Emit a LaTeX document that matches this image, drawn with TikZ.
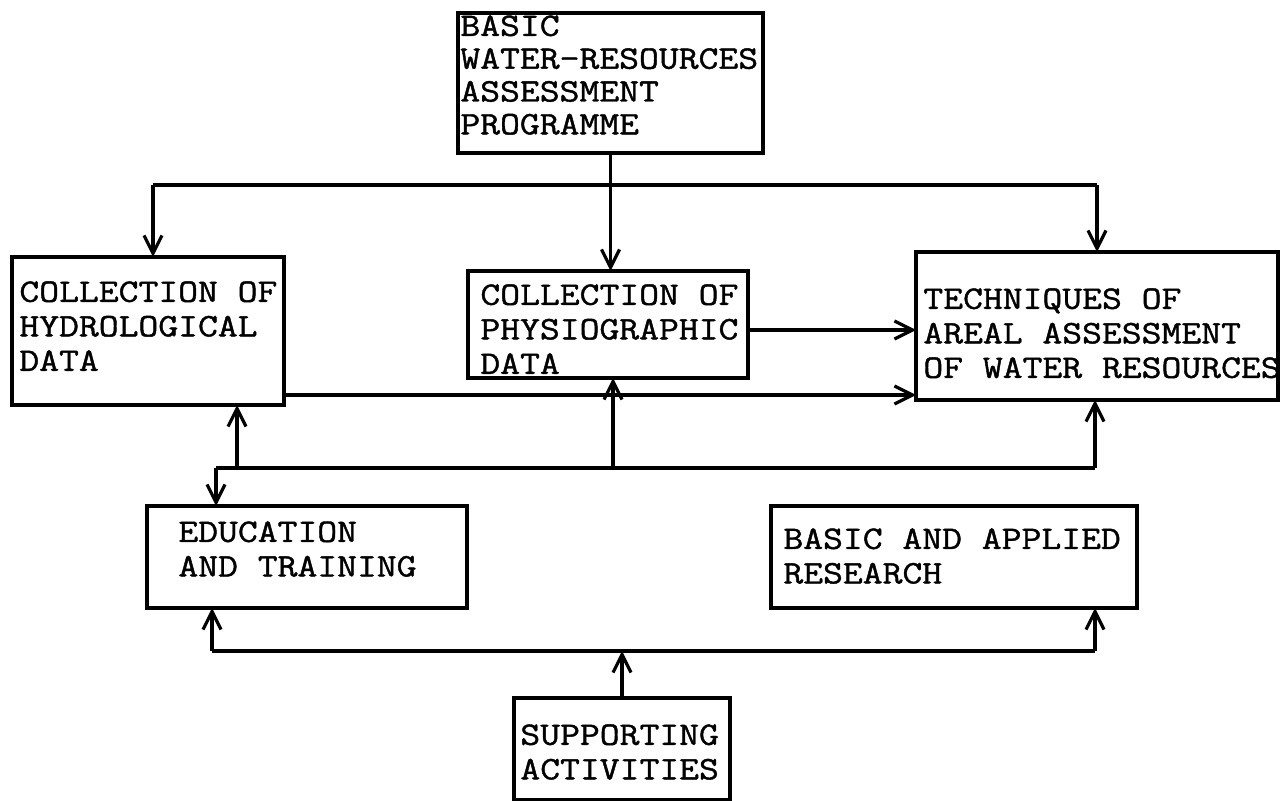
\documentclass[tikz,border=0pt]{standalone}
\usepackage{fontspec}
\newfontfamily\typew[FakeStretch=1.175,FakeBold=1.3]{Latin Modern Mono}
\usetikzlibrary{arrows.meta,calc}
\begin{document}
\begin{tikzpicture}[x=0.5pt,y=-0.5pt,
  box/.style={draw, line width=1.6pt, inner sep=0pt, outer sep=0pt},
  txt/.style={anchor=north west, inner sep=0pt, align=left, font=\typew\fontsize{16.4pt}{17.25pt}\selectfont},
  txttop/.style={txt, font=\typew\fontsize{16.4pt}{16.4pt}\selectfont},
  ln/.style={line width=1.6pt},
  arr/.style={ln, -{Straight Barb[length=9pt,width=9pt]}}]
\useasboundingbox (0,0) rectangle (1280,801);
\fill[white] (0,0) rectangle (1280,801);

% boxes
\node[box, minimum width=152.5pt, minimum height=70pt] (top) at (610.5,83) {};
\node[txttop] (toptxt) at (460,15) {BASIC\\WATER-RESOURCES\\ASSESSMENT\\PROGRAMME};

\node[box, minimum width=136pt, minimum height=74pt] (hyd) at (148,331) {};
\node[txt] (hydtxt) at (19,281) {COLLECTION OF\\HYDROLOGICAL\\DATA};

\node[box, minimum width=140pt, minimum height=53.5pt] (mid) at (608,324.5) {};
\node[txt] (midtxt) at (480,284) {COLLECTION OF\\PHYSIOGRAPHIC\\DATA};

\node[box, minimum width=181pt, minimum height=74pt] (tech) at (1097,326) {};
\node[txt] (techtxt) at (923,288) {TECHNIQUES OF\\AREAL ASSESSMENT\\OF WATER RESOURCES};

\node[box, minimum width=160pt, minimum height=51pt] (edu) at (307,557) {};
\node[txt] (edutxt) at (178,521) {EDUCATION\\AND TRAINING};

\node[box, minimum width=183pt, minimum height=51pt] (res) at (954,557) {};
\node[txt] (restxt) at (783,528) {BASIC AND APPLIED\\RESEARCH};

\node[box, minimum width=108pt, minimum height=51pt] (sup) at (622,749) {};
\node[txt] (suptxt) at (520,724) {SUPPORTING\\ACTIVITIES};

% upper distribution bus
\draw[arr] (top.south) -- (top.south |- mid.north);
\coordinate (bL) at (153,185);
\coordinate (bR) at (1097,185);
\draw[ln] (bL) -- (bR);
\draw[arr] (bL) -- (bL |- hyd.north);
\draw[arr] (bR) -- (bR |- tech.north);

% into techniques
\coordinate (m1) at ([yshift=-2.75pt]mid.east);
\draw[arr] (m1) -- (m1 -| tech.west);
\coordinate (h1) at ([yshift=5pt]hyd.south east);
\draw[arr] (h1) -- (h1 -| tech.west);

% lower bus
\coordinate (lL) at (216,468);
\coordinate (lR) at (1095,468);
\coordinate (l1) at (237,468);
\coordinate (l2) at (613,468);
\draw[ln] (lL) -- (lR);
\draw[arr] (lL) -- (lL |- edu.north);
\draw[arr] (l1) -- (l1 |- hyd.south);
\draw[arr] (l2) -- (l2 |- mid.south);
\draw[arr] (lR) -- (lR |- tech.south);

% bottom bus
\coordinate (dL) at (212,651);
\coordinate (dR) at (1095,651);
\draw[ln] (dL) -- (dR);
\draw[arr] (dL) -- (dL |- edu.south);
\draw[arr] (dR) -- (dR |- res.south);
\draw[arr] (sup.north) -- (sup.north |- dL);
\end{tikzpicture}
\end{document}
